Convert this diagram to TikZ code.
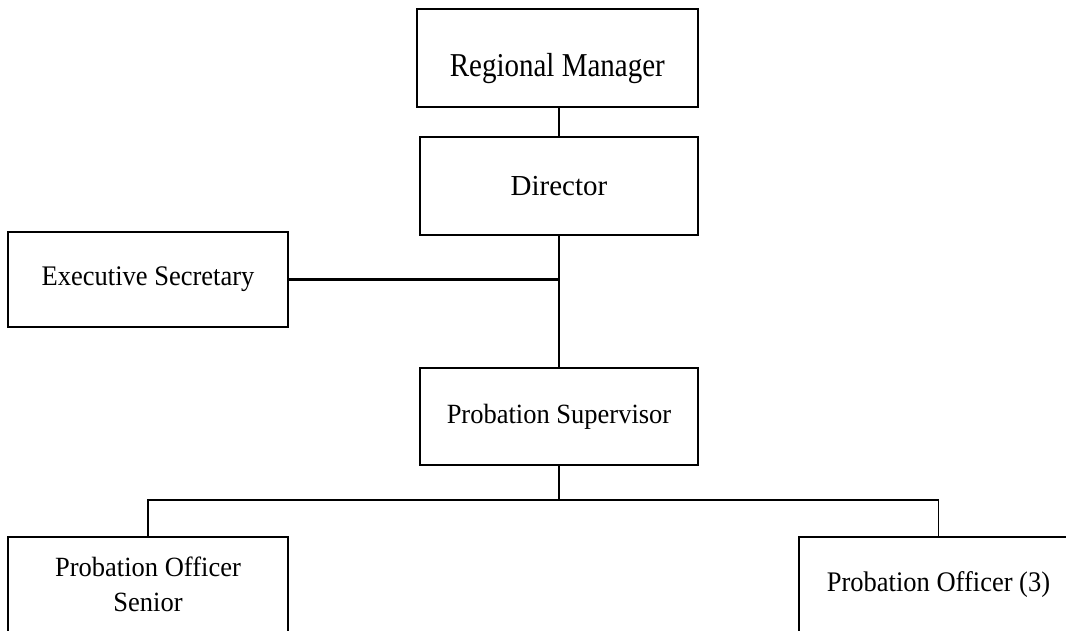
\documentclass[tikz,border=0pt]{standalone}
\usepackage{graphicx}
\usepackage{fontspec}
\setmainfont{Liberation Serif}
\newcommand{\vstr}[2]{\scalebox{1}[#1]{#2}}
\begin{document}
\begin{tikzpicture}[x=1pt,y=-1pt,
  orgbox/.style={draw, line width=2.2pt, rectangle, inner sep=0pt, align=center,
    font=\fontsize{26.5}{35}\selectfont},
  bigtext/.style={font=\fontsize{29}{34}\selectfont}]
\useasboundingbox (0,0) rectangle (1066,630);
\clip (0,0) rectangle (1066,630);
\node[orgbox, bigtext, minimum width=281pt, minimum height=98pt, text height=40pt, text depth=4pt] (rm) at (557.3,58) {\vstr{1.15}{Regional Manager}};
\node[orgbox, bigtext, minimum width=278pt, minimum height=98pt] (dir) at (559,186) {Director};
\node[orgbox, minimum width=280pt, minimum height=95pt] (exec) at (148,279.5) {\vstr{1.07}{Executive Secretary}};
\node[orgbox, minimum width=278pt, minimum height=97pt] (sup) at (559,416.5) {\vstr{1.05}{Probation Supervisor}};
\node[orgbox, minimum width=280pt, minimum height=95pt] (sen) at (148,584.5) {\vstr{1.05}{Probation Officer}\\\vstr{1.05}{Senior}};
\node[orgbox, minimum width=279pt, minimum height=95pt] (po) at (938.5,584.5) {\vstr{1.07}{Probation Officer (3)}};
\coordinate (bus) at (559,500);
\draw[line width=1.2pt] (dir.north) -- (dir.north |- rm.south);
\draw[line width=2.6pt] (dir.south) -- (sup.north);
\draw[line width=2.2pt] (exec.east) -- (exec.east -| dir.south);
\draw[line width=1.7pt] (sup.south) -- (bus);
\draw[line width=1.7pt] (sen.north) |- (bus) -| (po.north);
\end{tikzpicture}
\end{document}
